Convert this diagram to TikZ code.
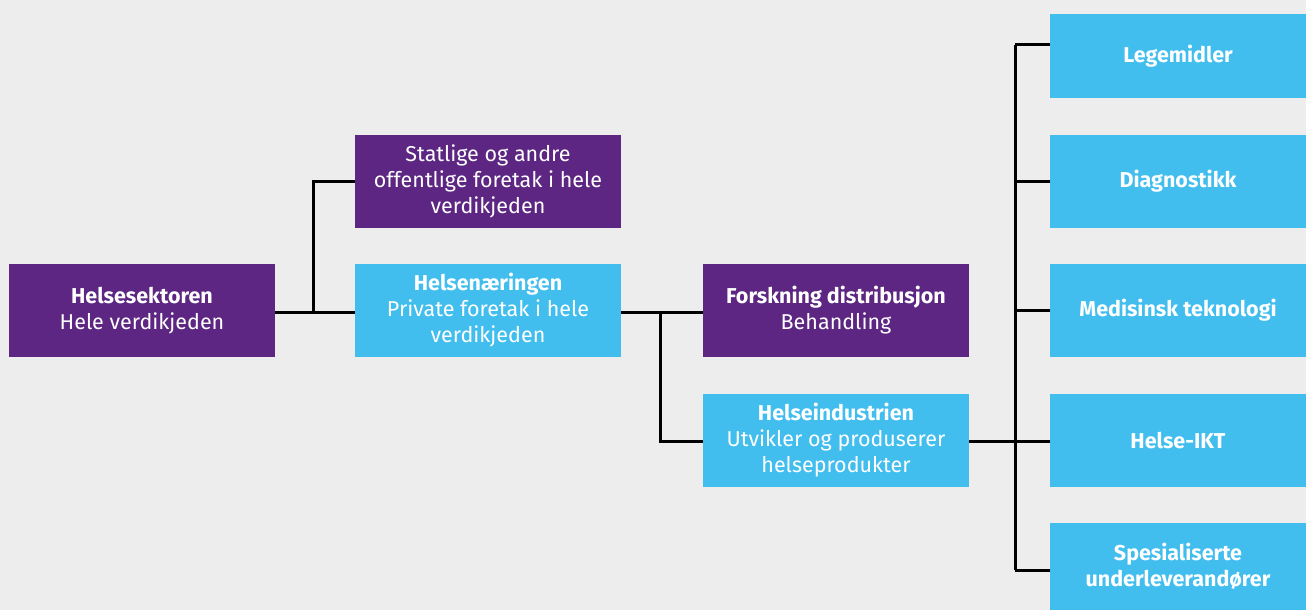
\documentclass[tikz,border=0pt]{standalone}
\usepackage{fontspec}
\setmainfont{Fira Sans}
\definecolor{bg}{HTML}{EDEDED}
\definecolor{pur}{HTML}{5C2682}
\definecolor{blu}{HTML}{41BEEE}
\begin{document}
\begin{tikzpicture}[x=1pt,y=-1pt,
  box/.style={rectangle,inner sep=0pt,minimum width=266pt,minimum height=93pt,align=center,text=white,font=\fontsize{21.5}{26}\selectfont},
  pbox/.style={box,fill=pur},
  bbox/.style={box,fill=blu},
  rbox/.style={box,fill=blu,minimum width=256pt,font=\fontsize{21.5}{26}\selectfont\bfseries},
  link/.style={draw=black,line width=3pt}]
\fill[bg] (0,0) rectangle (1306,610);
\useasboundingbox (0,0) rectangle (1306,610);
\node[pbox] (hs) at (142,310.5) {\textbf{Helsesektoren}\\Hele verdikjeden};
\node[pbox] (st) at (488,181.5) {Statlige og andre\\offentlige foretak i hele\\verdikjeden};
\node[bbox] (hn) at (488,310.5) {\textbf{Helsenæringen}\\Private foretak i hele\\verdikjeden};
\node[pbox] (fo) at (836,310.5) {\textbf{Forskning distribusjon}\\Behandling};
\node[bbox] (hi) at (836,440.5) {\textbf{Helseindustrien}\\Utvikler og produserer\\helseprodukter};
\node[rbox,minimum height=84pt] (lm) at (1178,56) {Legemidler};
\node[rbox] (di) at (1178,181.5) {Diagnostikk};
\node[rbox] (mt) at (1178,310.5) {Medisinsk teknologi};
\node[rbox] (ikt) at (1178,440.5) {Helse-IKT};
\node[rbox,minimum height=87pt] (sp) at (1178,566.5) {Spesialiserte\\underleverandører};
% connectors
\coordinate (j1) at (313,312);
\coordinate (j2) at (660,312);
\coordinate (j2b) at (660,441);
\coordinate (t1) at (1015,45);
\coordinate (t5) at (1015,570);
\draw[link] (hs.east |- j1) -- (hn.west |- j1);
\draw[link] (st.west) -| (j1);
\draw[link] (hn.east |- j2) -- (fo.west |- j2);
\draw[link] (j2) -- (j2b) -- (hi.west |- j2b);
\draw[link] (hi.east |- j2b) -- (ikt.west |- j2b);
\draw[link] (t1) -- (t5);
\draw[link] (t1) -- (lm.west |- t1);
\draw[link] (di.west) -- (di.west -| t1);
\draw[link] (mt.west) -- (mt.west -| t1);
\draw[link] (t5) -- (sp.west |- t5);
\end{tikzpicture}
\end{document}
